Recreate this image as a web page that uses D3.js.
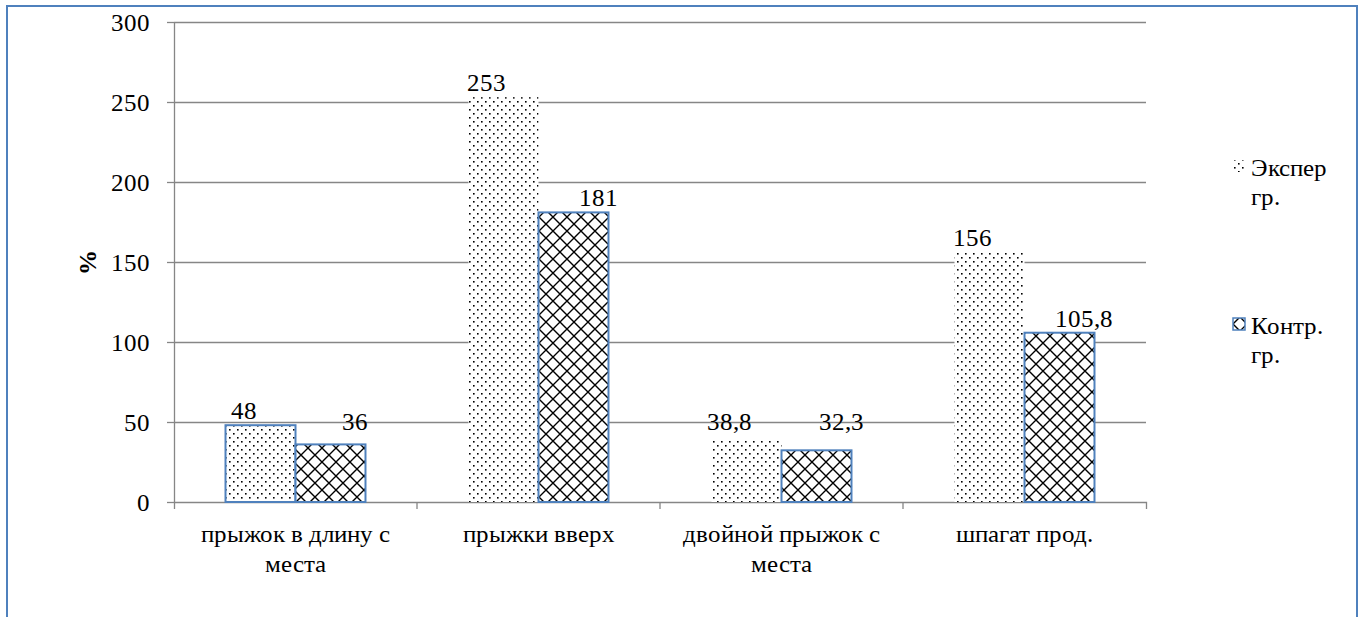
<!DOCTYPE html>
<html><head><meta charset="utf-8">
<script src="https://cdn.jsdelivr.net/npm/d3@7"></script>
<style>
@font-face { font-family: "ChartSerif"; src: local("Liberation Serif"), local("LiberationSerif-Regular"), local("Liberation Serif Regular"); font-weight: normal; }
@font-face { font-family: "ChartSerif"; src: local("Liberation Serif Bold"), local("LiberationSerif-Bold"); font-weight: bold; }
</style>
</head>
<body style="margin:0">
<svg id="chart" width="1362" height="617"></svg>
<script>
const categories = ["прыжок в длину с места", "прыжки вверх", "двойной прыжок с места", "шпагат прод."];
const seriesNames = ["Экспер гр.", "Контр. гр."];
const experValues = [48, 253, 38.8, 156];
const controlValues = [36, 181, 32.3, 105.8];
const yTicks = [0, 50, 100, 150, 200, 250, 300];
const yTitle = "%";

const FF = "ChartSerif, 'Liberation Serif', serif";
const svg = d3.select("#chart").style("font-family", FF);
const plot = {left: 174, right: 1146, top: 22, bottom: 502};
const gridColor = "#868686";
const blue = "#4f81bd";
const fontSize = 25;

function serifText(sel) {
  return sel.style("font-family", FF).style("font-size", fontSize + "px").attr("fill", "#000");
}

// border
svg.append("rect").attr("x", 7).attr("y", 6).attr("width", 1350).attr("height", 640)
  .attr("fill", "#fff").attr("stroke", blue).attr("stroke-width", 2);

// patterns
const defs = svg.append("defs");
const dots = defs.append("pattern").attr("id", "dots").attr("patternUnits", "userSpaceOnUse")
  .attr("width", 8).attr("height", 8);
dots.append("rect").attr("width", 8).attr("height", 8).attr("fill", "#fff");
dots.append("rect").attr("x", 1).attr("y", 1).attr("width", 1.6).attr("height", 1.6).attr("fill", "#000");
dots.append("rect").attr("x", 5).attr("y", 5).attr("width", 1.6).attr("height", 1.6).attr("fill", "#000");

const cross = defs.append("pattern").attr("id", "cross").attr("patternUnits", "userSpaceOnUse")
  .attr("width", 14).attr("height", 14);
cross.append("rect").attr("width", 14).attr("height", 14).attr("fill", "#fff");
cross.append("path").attr("d", "M-2,-2L16,16M16,-2L-2,16").attr("stroke", "#000").attr("stroke-width", 1.4);

const fills = ["url(#dots)", "url(#cross)"];
const data = [experValues, controlValues];

// scales
const y = d3.scaleLinear().domain([0, 300]).range([plot.bottom, plot.top]);
const x = d3.scaleBand().domain(categories).range([plot.left, plot.right]).paddingInner(0).paddingOuter(0);
const xs = d3.scaleBand().domain(seriesNames).range([0, x.bandwidth()]).paddingInner(0).paddingOuter(0.736);

// gridlines
const grid = svg.append("g").attr("transform", `translate(${plot.left},0)`)
  .call(d3.axisLeft(y).tickValues(yTicks.filter(t => t > 0)).tickSize(-(plot.right - plot.left)).tickFormat(""));
grid.select(".domain").remove();
grid.selectAll("line").attr("stroke", gridColor).attr("stroke-width", 1.3);

// y axis
const yAxis = svg.append("g").attr("transform", `translate(${plot.left},0)`)
  .call(d3.axisLeft(y).tickValues(yTicks).tickSize(7).tickSizeOuter(0).tickPadding(17));
yAxis.attr("font-family", null).attr("font-size", null).style("font-family", FF);
yAxis.select(".domain").attr("stroke", gridColor).attr("stroke-width", 1.3);
yAxis.selectAll("line").attr("stroke", gridColor).attr("stroke-width", 1.3);
serifText(yAxis.selectAll("text"));

// x axis
const xAxis = svg.append("g").attr("transform", `translate(0,${plot.bottom})`)
  .call(d3.axisBottom(x).tickSize(0).tickSizeOuter(7).tickFormat(""));
xAxis.attr("font-family", null);
xAxis.select(".domain").attr("stroke", gridColor).attr("stroke-width", 1.3).attr("fill", "none");
xAxis.selectAll(".bound").data(categories.slice(1)).enter().append("line")
  .attr("x1", d => x(d)).attr("x2", d => x(d)).attr("y1", 0).attr("y2", 7)
  .attr("stroke", gridColor).attr("stroke-width", 1.3);

// category labels (two lines when long)
const catLines = categories.map(c => {
  const w = c.split(" ");
  return w.length > 3 ? [w.slice(0, w.length - 1).join(" "), w[w.length - 1]] : [c];
});
const catG = svg.append("g");
categories.forEach((c, ci) => {
  const cx = x(c) + x.bandwidth() / 2;
  const t = serifText(catG.append("text")).attr("text-anchor", "middle").attr("x", cx).attr("y", 542);
  catLines[ci].forEach((ln, li) => {
    t.append("tspan").attr("x", cx).attr("dy", li === 0 ? 0 : 30).text(ln);
  });
});

// bars
const fmt = d3.formatLocale({decimal: ",", thousands: " ", grouping: [3], currency: ["", ""]}).format("~f");
seriesNames.forEach((s, si) => {
  svg.append("g").selectAll("rect").data(data[si]).enter().append("rect")
    .attr("x", (d, i) => x(categories[i]) + xs(s))
    .attr("y", d => y(d))
    .attr("width", xs.bandwidth())
    .attr("height", d => y(0) - y(d))
    .attr("fill", fills[si])
    .attr("stroke", (d, i) => (si === 1 || i === 0) ? blue : "none")
    .attr("stroke-width", 2);
});
// labels
const labelOffset = [-17, 25];
seriesNames.forEach((s, si) => {
  serifText(svg.append("g").selectAll("text").data(data[si]).enter().append("text"))
    .attr("x", (d, i) => x(categories[i]) + xs(s) + xs.bandwidth() / 2 + labelOffset[si])
    .attr("y", d => Math.min(y(d) - 6, y(45)))
    .attr("text-anchor", "middle")
    .text(d => fmt(d));
});

// y title
serifText(svg.append("text")).attr("transform", "translate(96,262) rotate(-90)")
  .attr("text-anchor", "middle").style("font-weight", "bold").text(yTitle);

// legend
const ly = d3.scalePoint().domain(seriesNames).range([166, 324]);
seriesNames.forEach((s, si) => {
  const g = svg.append("g").attr("transform", `translate(1233,${ly(s)})`);
  g.append("rect").attr("x", 0).attr("y", -6).attr("width", 12).attr("height", 12)
    .attr("fill", fills[si]).attr("stroke", si === 1 ? blue : "none").attr("stroke-width", 1.5);
  const t = serifText(g.append("text")).attr("x", 18).attr("y", 10);
  s.split(" ").forEach((w, wi) => {
    t.append("tspan").attr("x", 18).attr("dy", wi === 0 ? 0 : 29).text(w);
  });
});
</script>
</body></html>
